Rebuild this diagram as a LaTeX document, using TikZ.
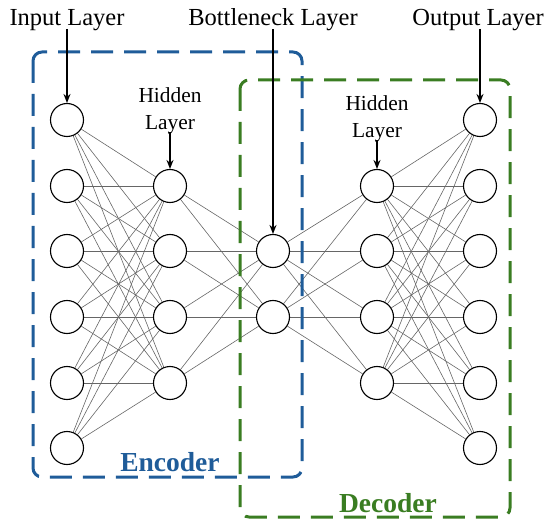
\documentclass[tikz,border=0pt]{standalone}
\usepackage{fontspec}
\setmainfont{Liberation Serif}
\newfontfamily\timesfont{Liberation Serif}
\usetikzlibrary{arrows.meta,backgrounds}
\definecolor{encblue}{HTML}{1F5C99}
\definecolor{decgreen}{HTML}{3A7D22}
\begin{document}
\begin{tikzpicture}[x=1pt,y=-1pt,
 neuron/.style={circle,draw=black,fill=white,line width=1.1pt,minimum size=33pt,inner sep=0pt},
 conn/.style={draw=black!60,line width=0.6pt},
 pointer/.style={-{Stealth[length=9pt,width=7pt]},line width=1.5pt},
 grpbox/.style={line width=3pt,dash pattern=on 22pt off 11pt,rounded corners=9pt},
 lbl/.style={font=\timesfont\fontsize{24.5}{26}\selectfont,inner sep=1pt},
 hlbl/.style={font=\timesfont\fontsize{21.4}{27}\selectfont,align=center,inner sep=1pt},
 grp/.style={font=\timesfont\bfseries\fontsize{27.5}{30}\selectfont,inner sep=1pt}]
\useasboundingbox (0,0) rectangle (550,527);
% input layer
\foreach \i/\y in {1/120,2/186,3/251,4/317,5/383,6/448}
  \node[neuron] (i\i) at (67,\y) {};
% encoder hidden
\foreach \i/\y in {1/186,2/251,3/317,4/383}
  \node[neuron] (h\i) at (170,\y) {};
% bottleneck
\foreach \i/\y in {1/251,2/317}
  \node[neuron] (b\i) at (273,\y) {};
% decoder hidden
\foreach \i/\y in {1/186,2/251,3/317,4/383}
  \node[neuron] (d\i) at (377,\y) {};
% output
\foreach \i/\y in {1/120,2/186,3/251,4/317,5/383,6/448}
  \node[neuron] (o\i) at (480,\y) {};
\begin{scope}[on background layer]
  \foreach \a in {1,...,6}
    \foreach \b in {1,...,4}
      \draw[conn] (i\a) -- (h\b);
  \foreach \a in {1,...,4}
    \foreach \b in {1,2}
      \draw[conn] (h\a) -- (b\b);
  \foreach \a in {1,2}
    \foreach \b in {1,...,4}
      \draw[conn] (b\a) -- (d\b);
  \foreach \a in {1,...,4}
    \foreach \b in {1,...,6}
      \draw[conn] (d\a) -- (o\b);
  \draw[grpbox,draw=encblue] (33,52) rectangle (302,477);
  \draw[grpbox,draw=decgreen] (240,80) rectangle (510,517);
\end{scope}
% labels
\node[lbl] (lin) at (67,20) {Input Layer};
\node[lbl] (lbn) at (273,20) {Bottleneck Layer};
\node[lbl] (lout) at (478,20) {Output Layer};
\node[hlbl] (lh1) at (170,111) {Hidden\\Layer};
\node[hlbl] (lh2) at (377,119) {Hidden\\Layer};
\draw[pointer] ([yshift=3pt]lin.south) -- (i1.north);
\draw[pointer] ([yshift=3pt]lbn.south) -- (b1.north);
\draw[pointer] ([yshift=3pt]lout.south -| o1.north) -- (o1.north);
\draw[pointer] ([yshift=3pt]lh1.south) -- (h1.north);
\draw[pointer] ([yshift=3pt]lh2.south) -- (d1.north);
\node[grp,text=encblue] (enc) at (170,462) {Encoder};
\node[grp,text=decgreen] (dec) at (388,503) {Decoder};
\end{tikzpicture}
\end{document}
